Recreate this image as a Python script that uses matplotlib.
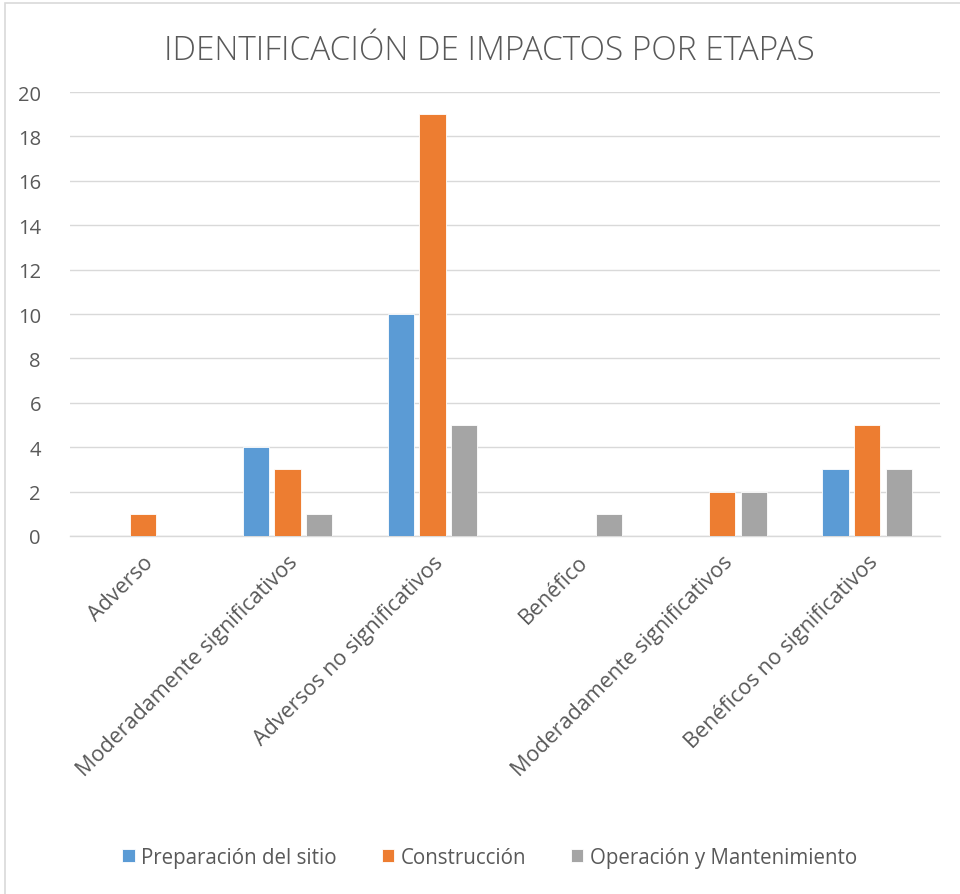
import matplotlib
matplotlib.use("Agg")
import matplotlib.pyplot as plt
import numpy as np
from matplotlib.patches import Rectangle

# datos
categorias = ["Adverso", "Moderadamente significativos", "Adversos no significativos",
              "Benéfico", "Moderadamente significativos", "Benéficos no significativos"]
preparacion = [0, 4, 10, 0, 0, 3]
construccion = [1, 3, 19, 0, 2, 5]
operacion = [0, 1, 5, 1, 2, 3]
series = ["Preparación del sitio", "Construcción", "Operación y Mantenimiento"]
colores = ["#5B9BD5", "#ED7D31", "#A5A5A5"]

plt.rcParams["font.family"] = ["Open Sans", "DejaVu Sans"]
TXT = "#595959"

fig = plt.figure(figsize=(9.6, 8.95), dpi=100)
fig.patch.set_facecolor("white")
ax = fig.add_axes([0.073, 0.40, 0.906, 0.496])

# marco del gráfico
fig.add_artist(Rectangle((0.005, -0.1), 1.2, 0.1955 + 0.9, transform=fig.transFigure,
                         fill=False, edgecolor="#D9D9D9", lw=1.2))

x = np.arange(len(categorias))
w = 0.18
paso = 0.22
for i, (vals, nombre, c) in enumerate(zip([preparacion, construccion, operacion], series, colores)):
    ax.bar(x + (i - 1) * paso, vals, w, color=c, label=nombre, zorder=3,
           edgecolor="white", linewidth=0.6)

ax.set_xlim(-0.5, len(categorias) - 0.5)
ax.set_ylim(0, 20)
ax.set_yticks(range(0, 21, 2))
ax.grid(axis="y", color="#D9D9D9", lw=1, zorder=0)
for s in ["top", "right", "left"]:
    ax.spines[s].set_visible(False)
ax.spines["bottom"].set_color("#D9D9D9")
ax.spines["bottom"].set_linewidth(1)
ax.tick_params(axis="both", length=0, colors=TXT, labelsize=14.5)
ax.tick_params(axis="y", pad=21)

ax.set_xticks(x)
ax.set_xticklabels(categorias, rotation=45, ha="right", rotation_mode="anchor",
                   fontsize=15.5, color=TXT)
ax.tick_params(axis="x", pad=11)

fig.text(0.51, 0.943, "IDENTIFICACIÓN DE IMPACTOS POR ETAPAS", ha="center", va="center",
         fontsize=24, color=TXT, fontweight="light")

leg = fig.legend(loc="center", bbox_to_anchor=(0.51, 0.041), ncol=3, frameon=False,
                 fontsize=14.8, handlelength=0.6, handleheight=0.6, handletextpad=0.3,
                 columnspacing=2.2)
for t in leg.get_texts():
    t.set_color(TXT)

fig.savefig("out.png", dpi=100, facecolor="white")
